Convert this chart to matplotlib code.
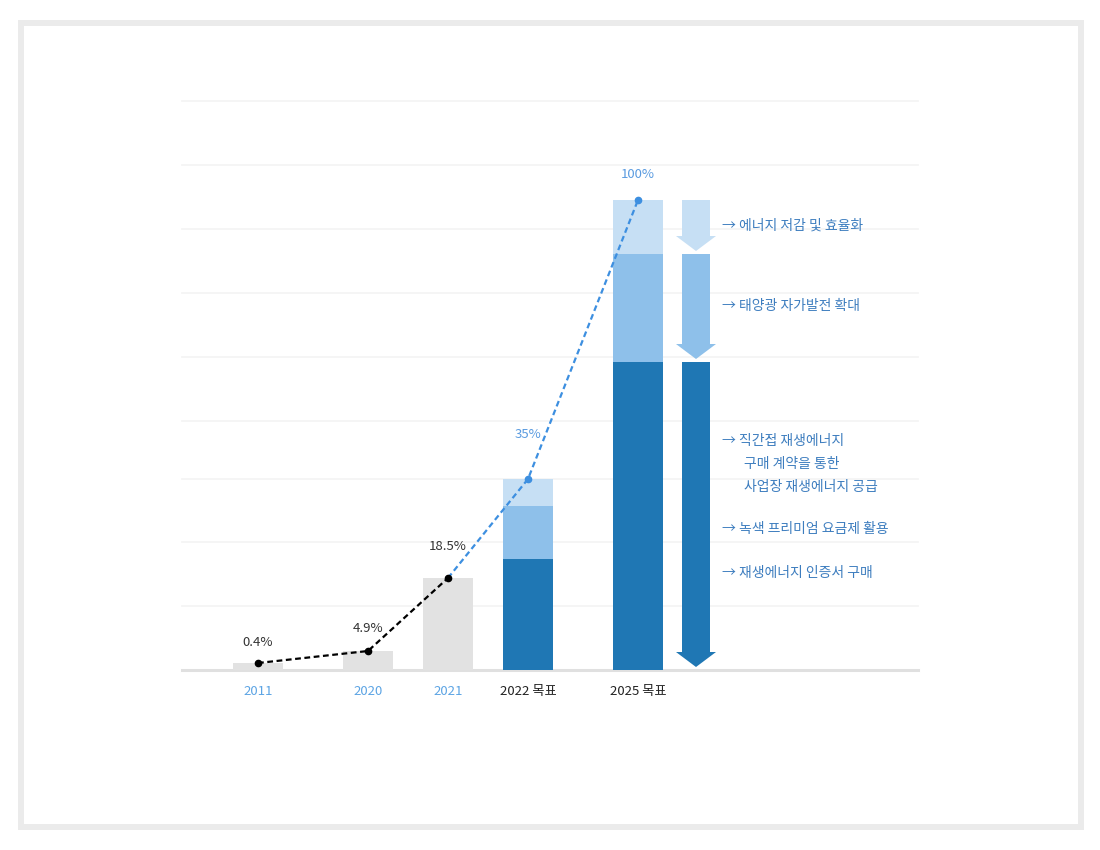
import matplotlib
matplotlib.use("Agg")
import matplotlib.pyplot as plt
from matplotlib.patches import Rectangle

plt.rcParams['font.family'] = ['Noto Sans CJK KR', 'DejaVu Sans']

# data (heights, in pixels above the baseline)
categories = ['2011', '2020', '2021', '2022 목표', '2025 목표']
x_pos = [0, 1.1, 1.9, 2.7, 3.8]
gray_vals = [7, 19, 92]
dark_vals = [111, 308]
mid_vals = [53, 108]
light_vals = [27, 54]
line_vals = [7, 19, 92, 191, 470]
pct_labels = ['0.4%', '4.9%', '18.5%', '35%', '100%']
grid_levels = [64, 128, 191, 249, 313, 377, 441, 505, 569]

notes = [
    ('→ 에너지 저감 및 효율화', 444),
    ('→ 태양광 자가발전 확대', 364),
    ('→ 직간접 재생에너지', 229),
    ('구매 계약을 통한', 206),
    ('사업장 재생에너지 공급', 183),
    ('→ 녹색 프리미엄 요금제 활용', 141),
    ('→ 재생에너지 인증서 구매', 97),
]

c_dark = '#1f77b4'
c_mid = '#8ec0ea'
c_light = '#c6dff4'
c_gray = '#e2e2e2'
c_note = '#3d7dbf'
c_blue = '#3d8fe0'

fig = plt.figure(figsize=(11, 8.5), dpi=100)
fig.patches.append(Rectangle((21 / 1100, 23 / 850), 1060 / 1100, 804 / 850,
                             transform=fig.transFigure, fill=False,
                             edgecolor='#ebebeb', linewidth=4.3))

ax = fig.add_axes([182 / 1100, 180 / 850, 736 / 1100, 575 / 850])
ax.set_xlim(-0.76, 6.60)
ax.set_ylim(0, 575)
for s in ax.spines.values():
    s.set_visible(False)
ax.set_yticks([])

for g in grid_levels:
    ax.axhline(g, color='#f3f3f3', lw=1.2, zorder=0, clip_on=False)
ax.axhline(0, color='#e0e0e0', lw=2.2, zorder=1, clip_on=False)

# bars
ax.bar(x_pos[:3], gray_vals, width=0.5, color=c_gray, zorder=2)
ax.bar(x_pos[3:], dark_vals, width=0.5, color=c_dark, zorder=2)
bot = [d + m for d, m in zip(dark_vals, mid_vals)]
ax.bar(x_pos[3:], mid_vals, width=0.5, bottom=dark_vals, color=c_mid, zorder=2)
ax.bar(x_pos[3:], light_vals, width=0.5, bottom=bot, color=c_light, zorder=2)

# arrows next to the 2025 bar
ax_x = x_pos[4] + 0.58
gap = 5
tops = [bot[1] + light_vals[1], bot[1], dark_vals[1]]
bottoms = [bot[1], dark_vals[1], 0]
for top, b, col in zip(tops, bottoms, [c_light, c_mid, c_dark]):
    ax.arrow(ax_x, top, 0, -(top - b - gap + 2), width=0.28, head_width=0.40,
             head_length=15, length_includes_head=True, color=col, lw=0, zorder=2)

# line
ax.plot(x_pos[2:], line_vals[2:], color=c_blue, lw=1.6, ls=(0, (2.6, 1.6)), zorder=3)
ax.plot(x_pos[:3], line_vals[:3], color='black', lw=1.6, ls=(0, (2.6, 1.6)), zorder=4)
ax.plot(x_pos[:3], line_vals[:3], 'o', color='black', ms=4.5, zorder=5)
ax.plot(x_pos[3:], line_vals[3:], 'o', color=c_blue, ms=4.5, zorder=5)

offsets = [20, 22, 32, 44, 25]
for i, (x, y, lab) in enumerate(zip(x_pos, line_vals, pct_labels)):
    col = '#333333' if i < 3 else '#5a9be0'
    ax.text(x, y + offsets[i], lab, ha='center', va='center', fontsize=9.5, color=col)

for txt, y in notes:
    x = 4.64 if txt.startswith('→') else 4.86
    ax.text(x, y, txt, ha='left', va='center', fontsize=10, color=c_note)

ax.set_xticks(x_pos, categories)
ax.tick_params(axis='x', length=0, pad=11, labelsize=9.5)
for i, t in enumerate(ax.get_xticklabels()):
    t.set_color('#5ca4e4' if i < 3 else '#222222')

fig.savefig('out.png', dpi=100)
